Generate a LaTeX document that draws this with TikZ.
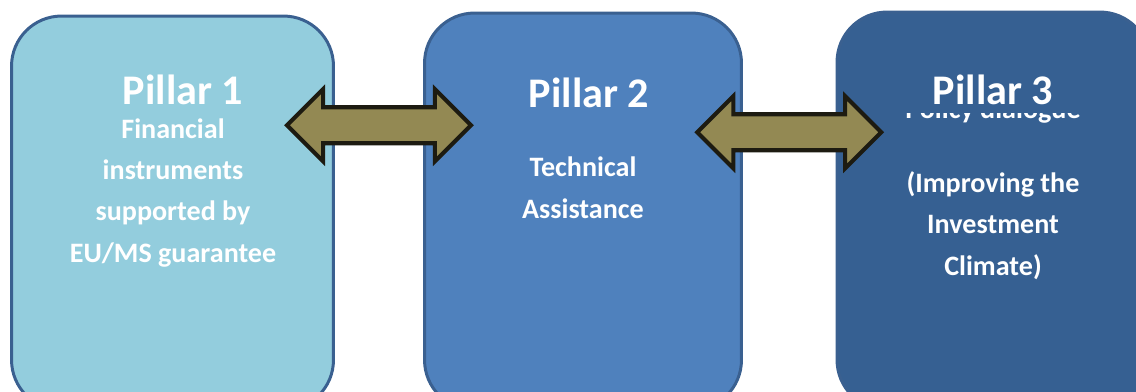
\documentclass[tikz,border=0pt]{standalone}
\usepackage{fontspec}
\setmainfont{Carlito}
\usetikzlibrary{calc}
\usetikzlibrary{shapes,arrows.meta}
\definecolor{pillarA}{HTML}{93CDDD}
\definecolor{pillarB}{HTML}{4F81BD}
\definecolor{pillarC}{HTML}{366092}
\definecolor{pillarLine}{HTML}{3A6090}
\definecolor{linkFill}{HTML}{938953}
\definecolor{linkLine}{HTML}{1D1B11}

\begin{document}
\begin{tikzpicture}[x=0.02cm,y=-0.02cm,
  pillar/.style={rectangle,rounded corners=1cm,draw=pillarLine,line width=1.7pt,inner sep=0pt},
  title/.style={text=white,font=\fontsize{24}{28}\selectfont\bfseries,anchor=base,inner sep=0pt},
  body/.style={text=white,font=\fontsize{16}{23.4}\selectfont\bfseries,anchor=base,align=center,inner sep=0pt},
  link/.style={double arrow,double arrow tip angle=90,double arrow head extend=0.36cm,draw=linkLine,fill=linkFill,line width=2.3pt,text height=0.32cm,text depth=0.32cm,minimum height=3.68cm,inner sep=0pt}]
\useasboundingbox (0,0) rectangle (1136,392);
\clip (0,0) rectangle (1136,392);

\node[pillar,fill=pillarA,minimum width=6.44cm,minimum height=7.88cm] (p1) at (172.5,213) {};
\node[title] (t1) at (183,104) {Pillar 1};
\node[body] (b1) at (173,262) {Financial\\instruments\\supported by\\EU/MS guarantee};

\node[pillar,fill=pillarB,minimum width=6.34cm,minimum height=7.94cm] (p2) at (583,211.5) {};
\node[title] (t2) at (589,107) {Pillar 2};
\node[body] (b2) at (583,218) {Technical\\Assistance};

\node[pillar,fill=pillarC,minimum width=6.26cm,minimum height=7.96cm] (p3) at (993.5,211) {};
\node[body] (b3) at (993,275) {Policy dialogue\\[18.8pt](Improving the\\Investment\\Climate)};
\node[title,fill=pillarC,minimum width=4.2cm,inner ysep=0.18cm] (t3) at (993,104) {Pillar 3};

\node[link] (l12) at ($(p1.east)!0.5!(p2.west)+(0,-87)$) {};
\node[link] (l23) at ($(p2.east)!0.5!(p3.west)+(0,-79)$) {};

\end{tikzpicture}
\end{document}
